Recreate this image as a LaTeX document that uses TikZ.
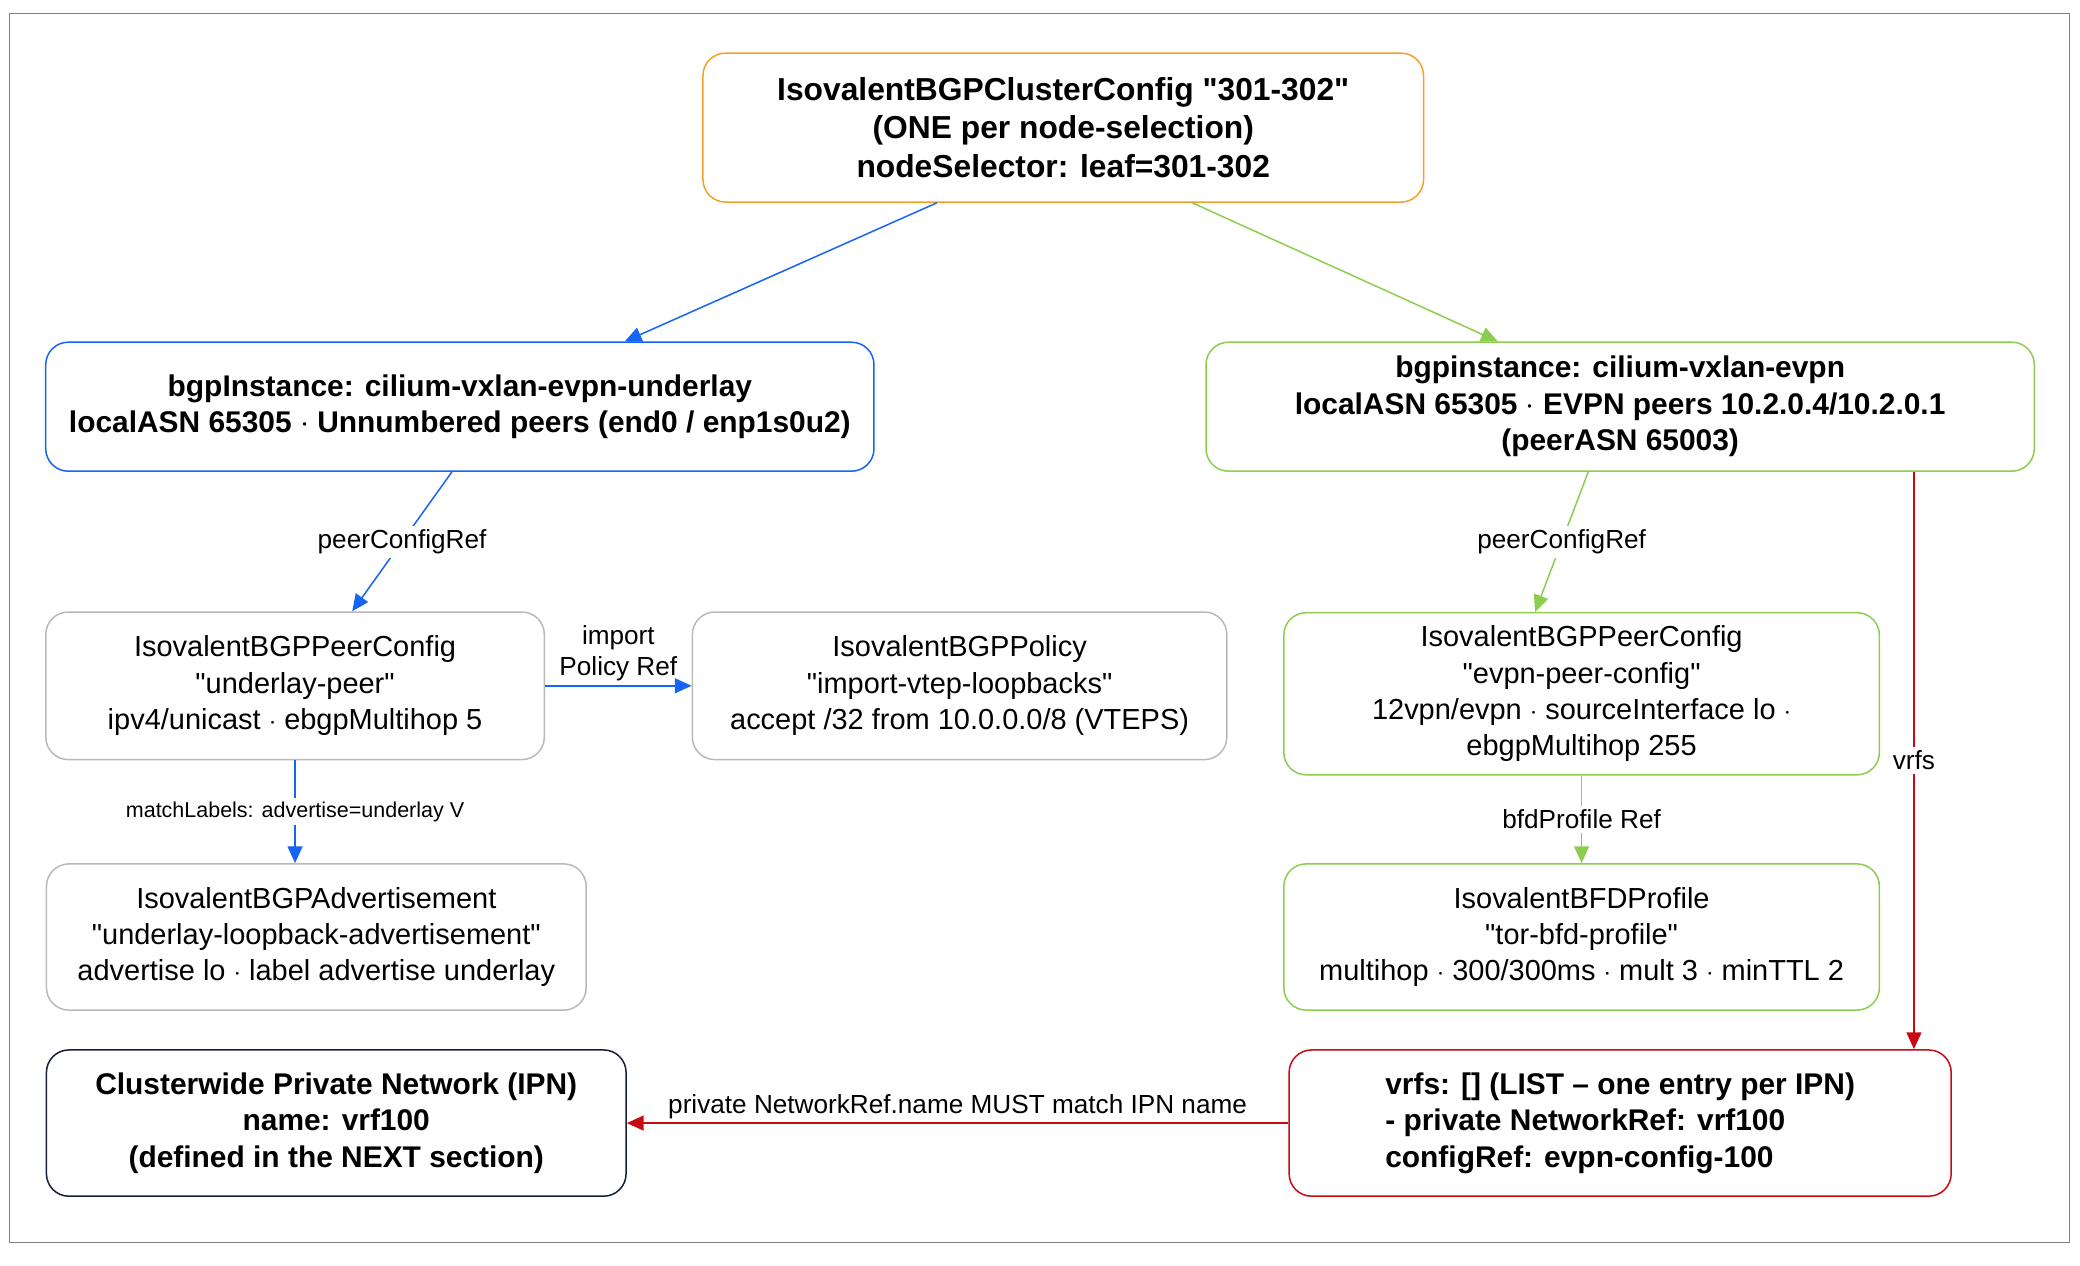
\documentclass[tikz,border=0pt]{standalone}
\usepackage{fontspec}
\setmainfont{Liberation Sans}
\usetikzlibrary{arrows.meta,positioning}

\newcommand{\qq}[1]{\textquotedbl#1\textquotedbl}
\tikzset{
  box/.style={draw, rounded corners=12pt, align=center, inner sep=0pt, line width=0.8pt,
    font=\fontsize{15.5}{19.5}\selectfont},
  bold box/.style={box, font=\bfseries\fontsize{16}{19.5}\selectfont},
  conn/.style={-{Triangle[length=9pt,width=8pt]}, line width=0.8pt},
  lbl/.style={fill=white, inner sep=2pt, font=\fontsize{14}{16}\selectfont, text=black}
}
\definecolor{orangeC}{RGB}{245,160,40}
\definecolor{blueC}{RGB}{20,100,245}
\definecolor{greenC}{RGB}{140,205,80}
\definecolor{grayC}{RGB}{185,185,185}
\definecolor{redC}{RGB}{200,10,20}
\definecolor{navyC}{RGB}{20,30,55}

\begin{document}
\begin{tikzpicture}[x=0.025cm, y=-0.025cm]
    \useasboundingbox (0,0) rectangle (1565,952);
    \draw[gray, line width=0.5pt] (7,10) rectangle (1557,935);

    % controller
    \node[bold box, draw=orangeC, minimum width=13.55cm, minimum height=2.8cm, font=\bfseries\fontsize{17}{20.5}\selectfont] (cfg) at (800,96)
      {IsovalentBGPClusterConfig \qq{301-302}\\(ONE per node-selection)\\nodeSelector: leaf=301-302};

    % instances
    \node[bold box, draw=blueC, minimum width=15.575cm, minimum height=2.425cm] (under) at (346,306)
      {bgpInstance: cilium-vxlan-evpn-underlay\\localASN 65305 $\cdot$ Unnumbered peers (end0 / enp1s0u2)};
    \node[bold box, draw=greenC, minimum width=15.575cm, minimum height=2.425cm] (evpn) at (1219,306)
      {bgpinstance: cilium-vxlan-evpn\\localASN 65305 $\cdot$ EVPN peers 10.2.0.4/10.2.0.1\\(peerASN 65003)};

    % left side
    \node[box, draw=grayC, minimum width=9.375cm, minimum height=2.775cm] (peerU) at (222,516)
      {IsovalentBGPPeerConfig\\\qq{underlay-peer}\\ipv4/unicast $\cdot$ ebgpMultihop 5};
    \node[box, draw=grayC, minimum width=10.05cm, minimum height=2.775cm] (policy) at (722,516)
      {IsovalentBGPPolicy\\\qq{import-vtep-loopbacks}\\accept /32 from 10.0.0.0/8 (VTEPS)};
    \node[box, draw=grayC, minimum width=10.15cm, minimum height=2.75cm] (advert) at (238,705)
      {IsovalentBGPAdvertisement\\\qq{underlay-loopback-advertisement}\\advertise lo $\cdot$ label advertise underlay};
    \node[bold box, draw=navyC, minimum width=10.9cm, minimum height=2.75cm] (ipn) at (253,845)
      {Clusterwide Private Network (IPN)\\name: vrf100\\(defined in the NEXT section)};

    % right side
    \node[box, draw=greenC, minimum width=11.2cm, minimum height=3.05cm] (peerE) at (1190,522)
      {IsovalentBGPPeerConfig\\\qq{evpn-peer-config}\\12vpn/evpn $\cdot$ sourceInterface lo $\cdot$\\ebgpMultihop 255};
    \node[box, draw=greenC, minimum width=11.2cm, minimum height=2.75cm] (bfd) at (1190,705)
      {IsovalentBFDProfile\\\qq{tor-bfd-profile}\\multihop $\cdot$ 300/300ms $\cdot$ mult 3 $\cdot$ minTTL 2};
    \node[bold box, draw=redC, minimum width=12.45cm, minimum height=2.75cm, align=left] (vrfs) at (1219,845)
      {vrfs: [] (LIST -- one entry per IPN)\\- private NetworkRef: vrf100\\configRef: evpn-config-100};

    % connectors
    \draw[conn, blueC] ([xshift=-2.375cm]cfg.south) -- ([xshift=3.1cm]under.north);
    \draw[conn, greenC] ([xshift=2.425cm]cfg.south) -- ([xshift=-2.3cm]evpn.north);
    \draw[conn, blueC] ([xshift=-0.15cm]under.south) -- node[lbl] {peerConfigRef} ([xshift=1.075cm]peerU.north);
    \draw[conn, greenC] ([xshift=-0.6cm]evpn.south) -- node[lbl] {peerConfigRef} ([xshift=-0.875cm]peerE.north);
    \draw[conn, blueC] (peerU.east) -- node[above, lbl, fill=none, align=center, font=\fontsize{14}{17}\selectfont] {import\\Policy Ref} (policy.west);
    \draw[conn, blueC] (peerU.south) -- node[lbl, font=\fontsize{11.5}{13}\selectfont] {matchLabels: advertise=underlay V} (advert.north -| peerU.south);
    \draw[conn, greenC] (peerE.south) -- node[lbl] {bfdProfile Ref} (bfd.north);
    \draw[conn, redC] ([xshift=5.525cm]evpn.south) -- node[lbl] {vrfs} ([xshift=5.525cm]vrfs.north);
    \draw[conn, redC] (vrfs.west) -- node[above, lbl, fill=none] {private NetworkRef.name MUST match IPN name} (ipn.east);
\end{tikzpicture}
\end{document}
